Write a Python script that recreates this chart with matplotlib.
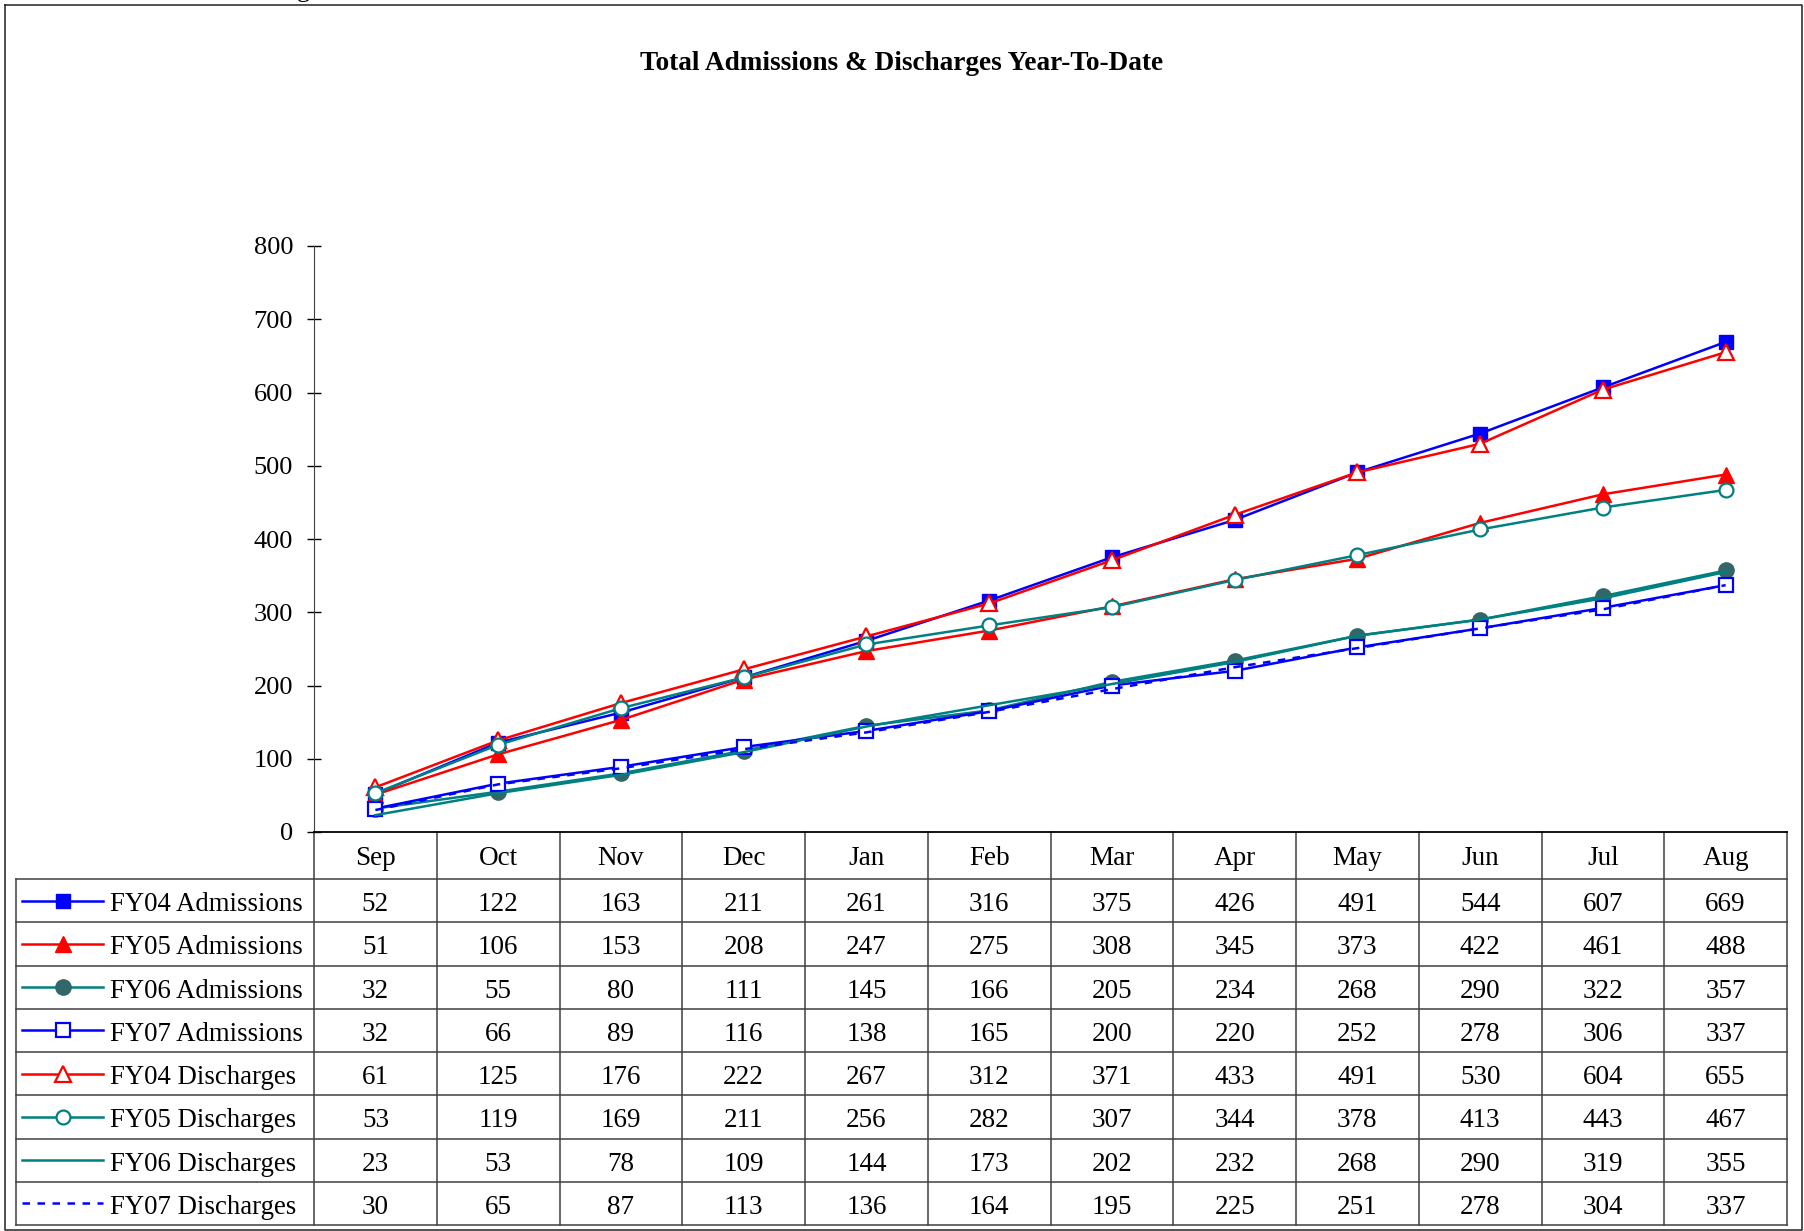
import numpy as np
import matplotlib
matplotlib.use('Agg')
import matplotlib.pyplot as plt
from matplotlib.transforms import blended_transform_factory

plt.rcParams['font.family'] = ['Liberation Serif', 'DejaVu Serif']

# data
months = ['Sep', 'Oct', 'Nov', 'Dec', 'Jan', 'Feb', 'Mar', 'Apr', 'May', 'Jun', 'Jul', 'Aug']
fy04_adm = [52, 122, 163, 211, 261, 316, 375, 426, 491, 544, 607, 669]
fy05_adm = [51, 106, 153, 208, 247, 275, 308, 345, 373, 422, 461, 488]
fy06_adm = [32, 55, 80, 111, 145, 166, 205, 234, 268, 290, 322, 357]
fy07_adm = [32, 66, 89, 116, 138, 165, 200, 220, 252, 278, 306, 337]
fy04_dis = [61, 125, 176, 222, 267, 312, 371, 433, 491, 530, 604, 655]
fy05_dis = [53, 119, 169, 211, 256, 282, 307, 344, 378, 413, 443, 467]
fy06_dis = [23, 53, 78, 109, 144, 173, 202, 232, 268, 290, 319, 355]
fy07_dis = [30, 65, 87, 113, 136, 164, 195, 225, 251, 278, 304, 337]

names = ['FY04 Admissions', 'FY05 Admissions', 'FY06 Admissions', 'FY07 Admissions',
         'FY04 Discharges', 'FY05 Discharges', 'FY06 Discharges', 'FY07 Discharges']
series = [fy04_adm, fy05_adm, fy06_adm, fy07_adm, fy04_dis, fy05_dis, fy06_dis, fy07_dis]

blue = '#0000FF'
red = '#FF0000'
teal = '#008080'
styles = [
    dict(color=blue, marker='s', ms=10, mfc=blue, mec=blue),
    dict(color=red, marker='^', ms=11, mfc=red, mec=red),
    dict(color=teal, marker='o', ms=11, mfc='#336666', mec='#336666'),
    dict(color=blue, marker='s', ms=10, mfc='white', mec=blue, mew=1.6),
    dict(color=red, marker='^', ms=11, mfc='white', mec=red, mew=1.6),
    dict(color=teal, marker='o', ms=10, mfc='white', mec=teal, mew=1.6),
    dict(color=teal),
    dict(color=blue, linestyle=(0, (3, 3))),
]

W, H = 1804, 1231
fig = plt.figure(figsize=(W / 100, H / 100), dpi=100)

# overlay in pixel coords for the frame and the data table
over = fig.add_axes([0, 0, 1, 1])
over.set_xlim(0, W)
over.set_ylim(H, 0)
over.axis('off')

# plot area
ax_left, ax_right, ax_top, ax_bot = 314, 1787, 246, 832
ax = fig.add_axes([ax_left / W, 1 - ax_bot / H, (ax_right - ax_left) / W, (ax_bot - ax_top) / H])
ax.patch.set_visible(False)

x = np.arange(len(months))
for vals, name, st in zip(series, names, styles):
    ax.plot(x, vals, lw=1.8, label=name, clip_on=False, **st)

ax.set_xlim(-0.5, len(months) - 0.5)
ax.set_ylim(0, 800)
ax.set_yticks(range(0, 801, 100))
ax.set_xticks([])
ax.tick_params(axis='y', direction='inout', length=10, width=1, pad=10, labelsize=19)
ax.spines['top'].set_visible(False)
ax.spines['right'].set_visible(False)
ax.spines['left'].set_color('#404040')
ax.spines['bottom'].set_color('black')
ax.spines['bottom'].set_linewidth(1.3)

# title
fig.text(0.5, 1 - 70 / H, 'Total Admissions & Discharges Year-To-Date',
         ha='center', va='baseline', fontsize=19.6, fontweight='bold')
# cut-off text from the page above
fig.text(303 / W, 1 + 3 / H, 'g', ha='center', va='baseline', fontsize=19)

# outer frame
over.plot([5, W - 2, W - 2, 5, 5], [5, 5, H - 1, H - 1, 5], color='#333333', lw=1.2)

# data table
trans = blended_transform_factory(ax.transData, over.transData)
tcol = '#404040'
head_top, head_bot = ax_bot, 879
row_h = 43.25
n = len(series)
tab_bot = head_bot + n * row_h
dy = 4  # nudge text down to sit like the reference

for k in range(len(months) + 1):
    over.plot([k - 0.5, k - 0.5], [head_top, tab_bot], color=tcol, lw=1.1, transform=trans)
over.plot([16, 16], [head_bot, tab_bot], color=tcol, lw=1.1)
for r in range(n + 1):
    yy = head_bot + r * row_h
    over.plot([16, ax_right], [yy, yy], color=tcol, lw=1.1)

for i, m in enumerate(months):
    over.text(i, (head_top + head_bot) / 2 + 3, m, transform=trans, ha='center', va='center', fontsize=19.5)

for r, (vals, name, st) in enumerate(zip(series, names, styles)):
    yc = head_bot + (r + 0.5) * row_h
    for i, v in enumerate(vals):
        over.text(i, yc + dy, str(v), transform=trans, ha='center', va='center', fontsize=19.5)
    over.plot([22, 103], [yc, yc], lw=1.8, **{k: v for k, v in st.items() if k not in ('marker', 'ms', 'mfc', 'mec', 'mew')})
    if 'marker' in st:
        over.plot([63], [yc], linestyle='none', marker=st['marker'], ms=st['ms'], mfc=st['mfc'],
                  mec=st['mec'], mew=st.get('mew', 1.0))
    over.text(110, yc + dy, name, ha='left', va='center', fontsize=19.3)

fig.savefig('out.png', dpi=100)
